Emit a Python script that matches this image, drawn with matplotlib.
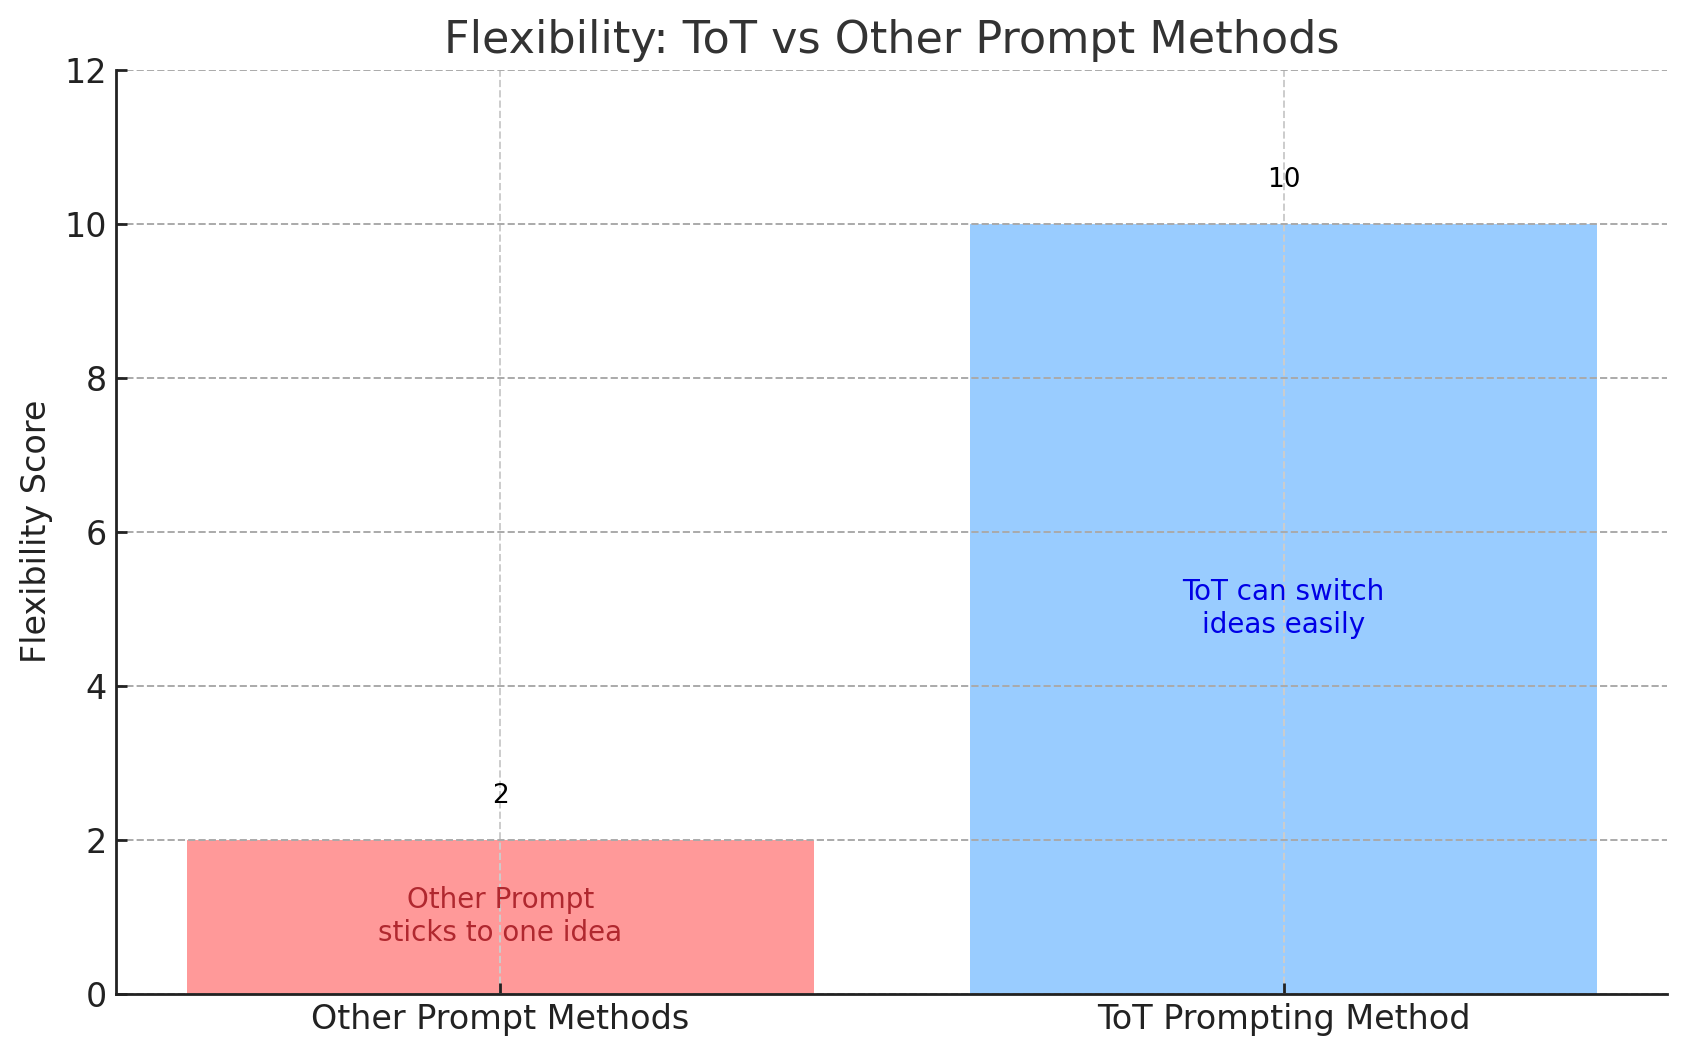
import matplotlib
matplotlib.use("Agg")
import matplotlib.pyplot as plt

# data
methods = ["Other Prompt Methods", "ToT Prompting Method"]
scores = [2, 10]
bar_colors = ["#ff9999", "#99ccff"]
notes = ["Other Prompt\nsticks to one idea", "ToT can switch\nideas easily"]
note_colors = ["#b0282f", "#0000e6"]

fig, ax = plt.subplots(figsize=(8.43, 5.285), dpi=200)
fig.subplots_adjust(left=0.069, right=0.989, top=0.934, bottom=0.06)

bars = ax.bar(methods, scores, color=bar_colors, width=0.8)

# numbers on top of bars
for i, v in enumerate(scores):
    ax.text(i, v + 0.4, str(v), ha="center", va="bottom", fontsize=9.5, color="black")

# notes inside bars
for i, v in enumerate(scores):
    ax.text(i, v / 2, notes[i], ha="center", va="center", fontsize=10, color=note_colors[i])

ax.set_ylim(0, 12)
ax.set_title("Flexibility: ToT vs Other Prompt Methods", fontsize=16, color="#333333")
ax.set_ylabel("Flexibility Score", fontsize=12, color="#222222")
ax.tick_params(axis="both", labelsize=12, direction="in", length=4, width=1.0, colors="#222222")

ax.grid(axis="y", linestyle="--", color="#aaaaaa", linewidth=0.7)
ax.grid(axis="x", linestyle="--", color="#cccccc", linewidth=0.7)

ax.spines["top"].set_visible(False)
ax.spines["right"].set_visible(False)
ax.spines["left"].set_linewidth(1.0)
ax.spines["bottom"].set_linewidth(1.0)
ax.spines["left"].set_color("#222222")
ax.spines["bottom"].set_color("#222222")

plt.savefig("out.png", dpi=200)
